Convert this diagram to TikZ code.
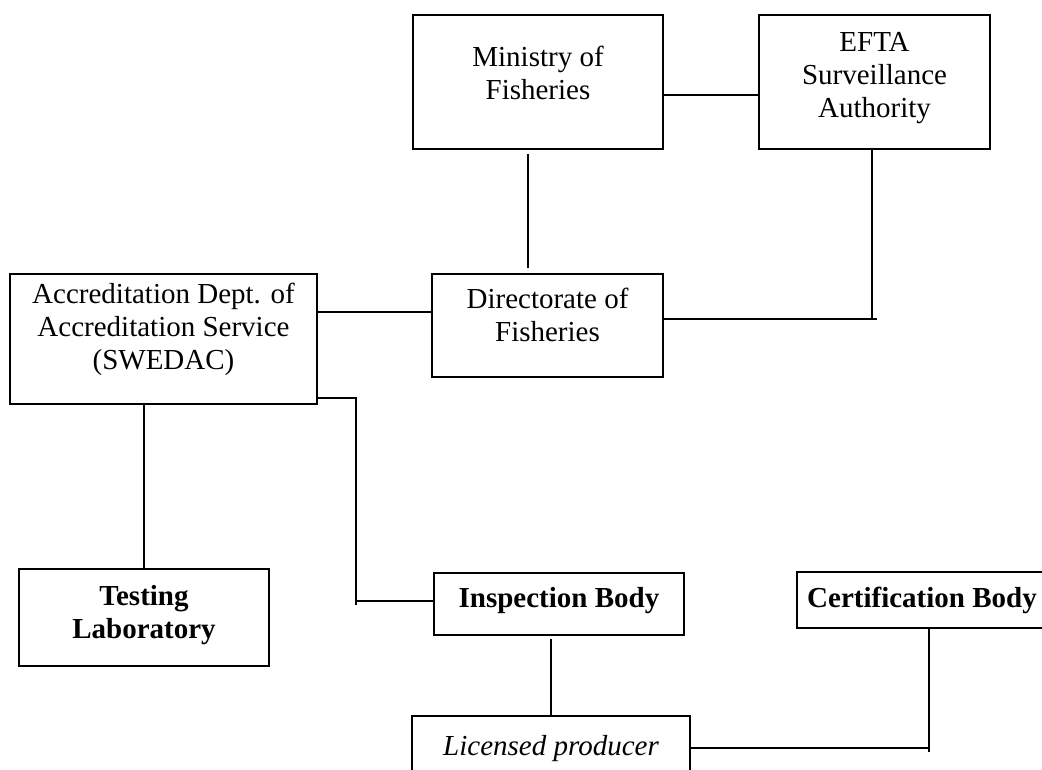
\documentclass[tikz,border=0pt]{standalone}
\usepackage{fontspec}
\setmainfont{Liberation Serif}
\newcommand{\bt}[2][0pt]{\begin{tabular}{@{}c@{}}#2\\[#1]\end{tabular}}
\begin{document}
\begin{tikzpicture}[x=1pt,y=-1pt,
  box/.style={draw, line width=1.5pt, inner sep=0pt, fill=white,
              font=\fontsize{29}{33}\selectfont},
  conn/.style={line width=1.2pt}]
\fill[white] (0,0) rectangle (1042,769);
\useasboundingbox (0,0) rectangle (1042,769);

% boxes
\node[box, minimum width=250pt, minimum height=134pt] (min)  at (538,82)    {\bt[11pt]{Ministry of\\Fisheries}};
\node[box, minimum width=231pt, minimum height=134pt] (efta) at (874.5,82)  {\bt[9pt]{EFTA\\Surveillance\\Authority}};
\node[box, minimum width=231pt, minimum height=103pt] (dir)  at (547.5,325.5) {\bt[14pt]{Directorate of\\Fisheries}};
\node[box, minimum width=307pt, minimum height=130pt] (acc)  at (163.5,339) {\bt[18pt]{Accreditation Dept. of\\Accreditation Service\\(SWEDAC)}};
\node[box, minimum width=250pt, minimum height=97pt]  (test) at (144,617.5) {\bfseries\bt[5pt]{Testing\\Laboratory}};
\node[box, minimum width=250pt, minimum height=62pt]  (insp) at (559,604)   {\bfseries\bt[6pt]{Inspection Body}};
\node[box, minimum width=250pt, minimum height=56pt]  (cert) at (922,600)   {\bfseries Certification Body};
\node[box, minimum width=278pt, minimum height=66pt]  (lic)  at (551,749)   {\itshape Licensed producer};

% junction points
\coordinate (ec) at (872,319);
\coordinate (ac) at (356,398);
\coordinate (ai) at (356,601);
\coordinate (lc) at (929,748);

% connectors
\draw[conn] (min.east |- 0,95) -- (efta.west |- 0,95);
\draw[conn, shorten <=4pt, shorten >=5pt] (min.south -| 528,0) -- (dir.north -| 528,0);
\draw[conn] (efta.south -| ec) -- (ec);
\draw[conn] ([xshift=5pt]ec) -- (dir.east |- ec);
\draw[conn] (acc.east |- 0,312) -- (dir.west |- 0,312);
\draw[conn] (acc.east |- ac) -- (ac) -- ([yshift=-4pt]ai);
\draw[conn] (ai) -- (insp.west |- ai);
\draw[conn] (acc.south -| test.north) -- (test.north);
\draw[conn, shorten <=3pt] (insp.south -| lic.north) -- (lic.north);
\draw[conn] (lic.east |- lc) -- (lc);
\draw[conn] (cert.south -| lc) -- ([yshift=-4pt]lc);
\end{tikzpicture}
\end{document}
